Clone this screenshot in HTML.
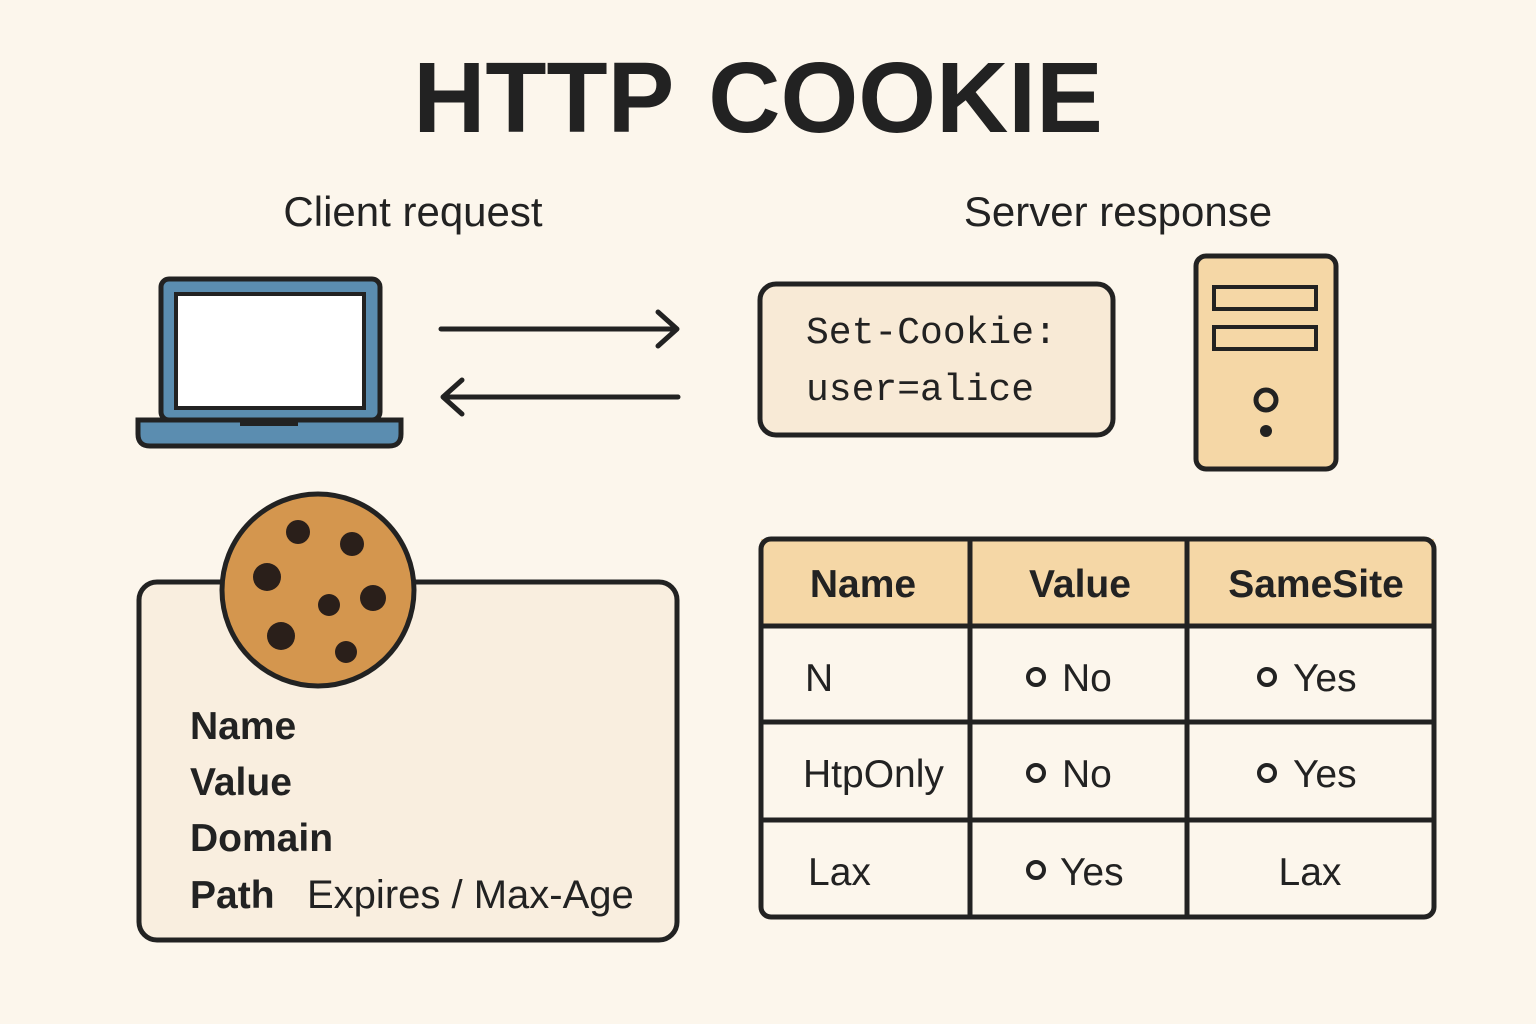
<!DOCTYPE html>
<html><head><meta charset="utf-8"><style>
html,body{margin:0;padding:0;background:#fcf6ec;}
svg{display:block}
</style></head><body>
<svg width="1536" height="1024" viewBox="0 0 1536 1024" xmlns="http://www.w3.org/2000/svg">
<rect width="1536" height="1024" fill="#fcf6ec"/>
<text x="758" y="132" text-anchor="middle" font-family="Liberation Sans, sans-serif" font-weight="bold" font-size="100" fill="#222" word-spacing="8">HTTP COOKIE</text>
<text x="413" y="226" text-anchor="middle" font-family="Liberation Sans, sans-serif" font-size="42" fill="#222">Client request</text>
<text x="1118" y="226" text-anchor="middle" font-family="Liberation Sans, sans-serif" font-size="42" fill="#222">Server response</text>
<!-- laptop -->
<rect x="161" y="279" width="219" height="141" rx="8" fill="#5b8db0" stroke="#222" stroke-width="5"/>
<rect x="176" y="294" width="188" height="114" fill="#fff" stroke="#222" stroke-width="4"/>
<path d="M138 420 H401 V434 Q401 446 389 446 H150 Q138 446 138 434 Z" fill="#5b8db0" stroke="#222" stroke-width="5"/>
<rect x="240" y="420" width="58" height="6" fill="#222"/>
<!-- arrows -->
<g stroke="#222" stroke-width="5" fill="none" stroke-linecap="round" stroke-linejoin="round">
<line x1="441" y1="329" x2="676" y2="329"/><polyline points="658,312 677,329 658,346"/>
<line x1="444" y1="397" x2="678" y2="397"/><polyline points="462,380 443,397 462,414"/>
</g>
<!-- set-cookie box -->
<rect x="760" y="284" width="353" height="151" rx="16" fill="#f8ead6" stroke="#222" stroke-width="5"/>
<text x="806" y="343" font-family="Liberation Mono, monospace" font-size="38" fill="#222">Set-Cookie:</text>
<text x="806" y="400" font-family="Liberation Mono, monospace" font-size="38" fill="#222">user=alice</text>
<!-- server -->
<rect x="1196" y="256" width="140" height="213" rx="10" fill="#f5d7a6" stroke="#222" stroke-width="5"/>
<rect x="1214" y="287" width="102" height="22" fill="#f5d7a6" stroke="#222" stroke-width="4"/>
<rect x="1214" y="327" width="102" height="22" fill="#f5d7a6" stroke="#222" stroke-width="4"/>
<circle cx="1266" cy="400" r="10" fill="none" stroke="#222" stroke-width="5"/>
<circle cx="1266" cy="431" r="6" fill="#222"/>
<!-- cookie card -->
<rect x="139" y="582" width="538" height="358" rx="18" fill="#f9eedf" stroke="#222" stroke-width="5"/>
<circle cx="318" cy="590" r="96" fill="#d4964e" stroke="#222" stroke-width="5"/>
<g fill="#2a1f1a">
<circle cx="298" cy="532" r="12"/><circle cx="352" cy="544" r="12"/><circle cx="267" cy="577" r="14"/>
<circle cx="329" cy="605" r="11"/><circle cx="373" cy="598" r="13"/><circle cx="281" cy="636" r="14"/><circle cx="346" cy="652" r="11"/>
</g>
<g font-family="Liberation Sans, sans-serif" font-size="39" fill="#222">
<text x="190" y="739" font-weight="bold">Name</text>
<text x="190" y="795" font-weight="bold">Value</text>
<text x="190" y="851" font-weight="bold">Domain</text>
<text x="190" y="908" font-weight="bold">Path</text>
<text x="307" y="908" font-size="40">Expires / Max-Age</text>
</g>
<!-- table -->
<rect x="761" y="539" width="673" height="87" fill="#f5d7a6"/>
<rect x="761" y="539" width="673" height="378" rx="10" fill="none" stroke="#222" stroke-width="5"/>
<g stroke="#222" stroke-width="5">
<line x1="970" y1="539" x2="970" y2="917"/><line x1="1187" y1="539" x2="1187" y2="917"/>
<line x1="761" y1="626" x2="1434" y2="626"/><line x1="761" y1="722" x2="1434" y2="722"/><line x1="761" y1="820" x2="1434" y2="820"/>
</g>
<g font-family="Liberation Sans, sans-serif" font-size="39" fill="#222">
<text x="863" y="597" text-anchor="middle" font-weight="bold">Name</text>
<text x="1080" y="597" text-anchor="middle" font-weight="bold">Value</text>
<text x="1316" y="597" text-anchor="middle" font-weight="bold">SameSite</text>
<text x="805" y="691">N</text>
<text x="1062" y="691">No</text>
<text x="1293" y="691">Yes</text>
<text x="803" y="787">HtpOnly</text>
<text x="1062" y="787">No</text>
<text x="1293" y="787">Yes</text>
<text x="808" y="885">Lax</text>
<text x="1060" y="885">Yes</text>
<text x="1310" y="885" text-anchor="middle">Lax</text>
</g>
<g fill="none" stroke="#222" stroke-width="4">
<circle cx="1036" cy="677" r="8"/><circle cx="1267" cy="677" r="8"/>
<circle cx="1036" cy="773" r="8"/><circle cx="1267" cy="773" r="8"/>
<circle cx="1036" cy="870" r="8"/>
</g>
</svg>
</body></html>
